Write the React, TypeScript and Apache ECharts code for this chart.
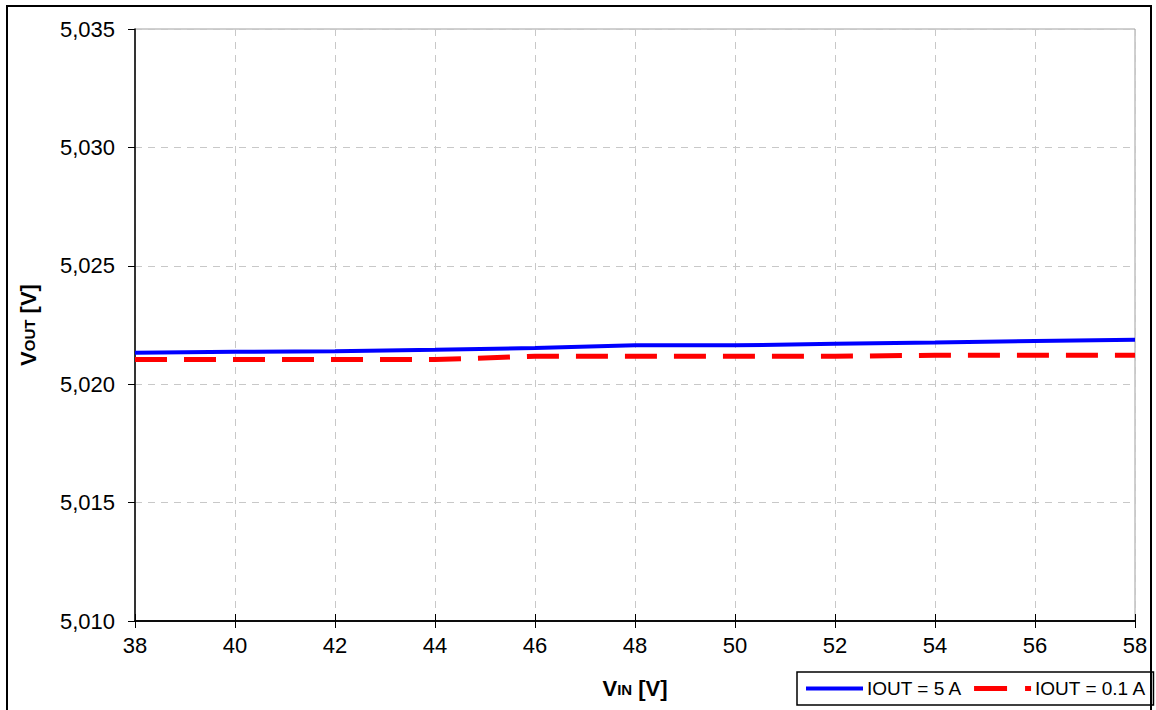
import React, { useEffect, useRef } from "react";
import * as echarts from "echarts";

// Input voltage sweep [V]
const vin = [38, 40, 42, 44, 46, 48, 50, 52, 54, 56, 58];
// Output voltage at IOUT = 5 A [V]
const vout5A = [5.02133, 5.02137, 5.02139, 5.02145, 5.02153, 5.02164, 5.02164, 5.02171, 5.02176, 5.02182, 5.02188];
// Output voltage at IOUT = 0.1 A [V]
const vout01A = [5.02104, 5.02104, 5.02104, 5.02104, 5.02118, 5.02118, 5.02118, 5.02118, 5.02122, 5.02122, 5.02122];

const seriesNames = ["IOUT = 5 A", "IOUT = 0.1 A"];

const FONT = "'Liberation Sans', Arial, sans-serif";

export default function App() {
  const ref = useRef<HTMLDivElement>(null);

  useEffect(() => {
    document.body.style.margin = "0";
    const chart = echarts.init(ref.current!, null, { renderer: "svg" });

    const gridLine = { show: true, lineStyle: { color: "#c8c8c8", width: 1, type: [7, 6] as any } };
    const axisLineBlack = { show: true, lineStyle: { color: "#000", width: 1.5 } };

    chart.setOption({
      animation: false,
      backgroundColor: "#fff",
      textStyle: { fontFamily: FONT },
      grid: {
        left: 135,
        right: 21,
        top: 29,
        bottom: 89,
        show: true,
        borderColor: "#a0a0a0",
        borderWidth: 1,
        backgroundColor: "#fff",
      },
      legend: {
        data: [
          { name: seriesNames[0], lineStyle: { width: 4, color: "#0000ff", type: "solid" } },
          { name: seriesNames[1], lineStyle: { width: 5, color: "#ff0000", type: [33, 18] as any } },
        ],
        left: 797,
        top: 672,
        orient: "horizontal",
        padding: [7, 7, 7, 7],
        itemWidth: 57,
        itemHeight: 14,
        itemGap: 9,
        borderColor: "#000",
        borderWidth: 1.5,
        backgroundColor: "#fff",
        itemStyle: { opacity: 0 },
        textStyle: { fontFamily: FONT, fontSize: 19, color: "#000", padding: [0, 0, 0, -1] },
      },
      xAxis: [
        {
          type: "value",
          min: 38,
          max: 58,
          interval: 2,
          axisLine: axisLineBlack,
          axisTick: { show: true, inside: false, length: 7, lineStyle: { color: "#000", width: 1 } },
          axisLabel: { fontFamily: FONT, fontSize: 22, color: "#000", margin: 13 },
          splitLine: gridLine,
          name: "{b|V}{s|IN}{b| [V]}",
          nameLocation: "middle",
          nameGap: 56,
          nameTextStyle: {
            rich: {
              b: { fontFamily: FONT, fontSize: 22, fontWeight: "bold", color: "#000" },
              s: { fontFamily: FONT, fontSize: 15, fontWeight: "bold", color: "#000", padding: [3, 0, 0, 0] },
            },
          },
        },
        {
          type: "value",
          min: 38,
          max: 58,
          interval: 2,
          position: "bottom",
          axisLine: axisLineBlack,
          axisTick: { show: true, inside: true, length: 7, lineStyle: { color: "#000", width: 1 } },
          axisLabel: { show: false },
          splitLine: { show: false },
        },
      ],
      yAxis: {
        type: "value",
        min: 5.01,
        max: 5.035,
        interval: 0.005,
        axisLine: axisLineBlack,
        axisTick: { show: true, inside: false, length: 7, lineStyle: { color: "#000", width: 1 } },
        axisLabel: {
          fontFamily: FONT,
          fontSize: 22,
          color: "#000",
          margin: 20,
          formatter: (v: number) => v.toFixed(3).replace(".", ","),
        },
        splitLine: gridLine,
        name: "{b|V}{s|OUT}{b| [V]}",
        nameLocation: "middle",
        nameGap: 96,
        nameRotate: 90,
        nameTextStyle: {
          rich: {
            b: { fontFamily: FONT, fontSize: 22, fontWeight: "bold", color: "#000" },
            s: { fontFamily: FONT, fontSize: 15, fontWeight: "bold", color: "#000", padding: [3, 0, 0, 0] },
          },
        },
      },
      series: [
        {
          name: seriesNames[0],
          type: "line",
          data: vin.map((x, i) => [x, vout5A[i]]),
          symbol: "none",
          lineStyle: { color: "#0000ff", width: 4 },
          itemStyle: { color: "#0000ff" },
          z: 3,
        },
        {
          name: seriesNames[1],
          type: "line",
          data: vin.map((x, i) => [x, vout01A[i]]),
          symbol: "none",
          lineStyle: { color: "#ff0000", width: 5, type: [32, 17] as any },
          itemStyle: { color: "#ff0000" },
          z: 2,
        },
      ],
      graphic: [
        {
          type: "rect",
          shape: { x: 7, y: 6, width: 1144, height: 730 },
          style: { fill: "none", stroke: "#000", lineWidth: 2 },
          silent: true,
          z: 100,
        },
      ],
    });

    return () => chart.dispose();
  }, []);

  return <div ref={ref} style={{ width: 1156, height: 710 }} />;
}
